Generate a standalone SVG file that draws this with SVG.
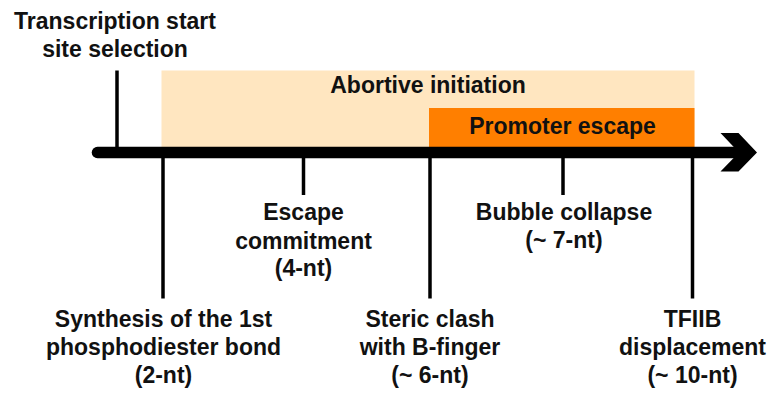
<svg xmlns="http://www.w3.org/2000/svg" width="774" height="395" viewBox="0 0 774 395">
<style>
text{font-family:"Liberation Sans",Arial,Helvetica,sans-serif;font-weight:bold;font-size:23px;fill:#111;text-anchor:middle}
.tick{stroke:#000;stroke-width:3.5;fill:none}
</style>
<rect width="774" height="395" fill="#fff"/>
<g id="abortive-initiation">
<rect x="161.5" y="70.5" width="533" height="78" fill="#FFE6C0"/>
<text x="428" y="93">Abortive initiation</text>
</g>
<g id="promoter-escape">
<rect x="429" y="108" width="265.5" height="40" fill="#FF7F00"/>
<text x="562.5" y="134">Promoter escape</text>
</g>
<g id="connectors">
<line class="tick" x1="117" y1="70.5" x2="117" y2="152"/>
<line class="tick" x1="163" y1="152" x2="163" y2="298.5"/>
<line class="tick" x1="303.5" y1="152" x2="303.5" y2="195"/>
<line class="tick" x1="430" y1="152" x2="430" y2="298.5"/>
<line class="tick" x1="563" y1="152" x2="563" y2="195"/>
<line class="tick" x1="692.5" y1="152" x2="692.5" y2="298.5"/>
</g>
<g id="timeline">
<line x1="97.5" y1="152.5" x2="745" y2="152.5" stroke="#000" stroke-width="11.5" stroke-linecap="round"/>
<polygon points="720.5,133 738.5,133 757,152.5 738.5,171.5 720.5,171.5 739,152.5" fill="#000"/>
</g>
<g id="tss">
<text x="115" y="28.5">Transcription start</text>
<text x="115" y="57">site selection</text>
</g>
<g id="synthesis">
<text x="163.5" y="327">Synthesis of the 1st</text>
<text x="163.5" y="355">phosphodiester bond</text>
<text x="163.5" y="383">(2-nt)</text>
</g>
<g id="escape-commitment">
<text x="303.5" y="220">Escape</text>
<text x="303.5" y="248.5">commitment</text>
<text x="303.5" y="276">(4-nt)</text>
</g>
<g id="steric-clash">
<text x="430" y="327">Steric clash</text>
<text x="430" y="355">with B-finger</text>
<text x="430" y="383">(~ 6-nt)</text>
</g>
<g id="bubble-collapse">
<text x="564" y="219.5">Bubble collapse</text>
<text x="564" y="248">(~ 7-nt)</text>
</g>
<g id="tfiib">
<text x="692.5" y="327">TFIIB</text>
<text x="692.5" y="355">displacement</text>
<text x="692.5" y="383">(~ 10-nt)</text>
</g>
</svg>
